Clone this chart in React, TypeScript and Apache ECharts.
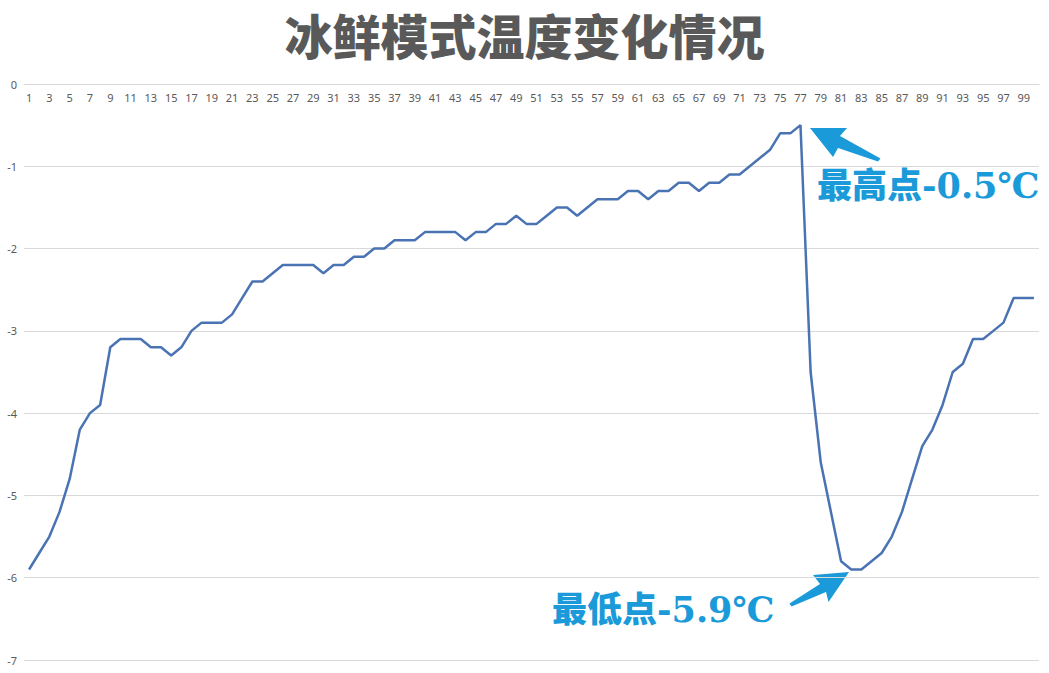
import { useEffect, useRef } from "react";
import * as echarts from "echarts";

const categories = [
  "1", "2", "3", "4", "5", "6", "7", "8", "9", "10",
  "11", "12", "13", "14", "15", "16", "17", "18", "19", "20",
  "21", "22", "23", "24", "25", "26", "27", "28", "29", "30",
  "31", "32", "33", "34", "35", "36", "37", "38", "39", "40",
  "41", "42", "43", "44", "45", "46", "47", "48", "49", "50",
  "51", "52", "53", "54", "55", "56", "57", "58", "59", "60",
  "61", "62", "63", "64", "65", "66", "67", "68", "69", "70",
  "71", "72", "73", "74", "75", "76", "77", "78", "79", "80",
  "81", "82", "83", "84", "85", "86", "87", "88", "89", "90",
  "91", "92", "93", "94", "95", "96", "97", "98", "99", "100",
];

const temperatures = [
  -5.9, -5.7, -5.5, -5.2, -4.8, -4.2, -4.0, -3.9, -3.2, -3.1,
  -3.1, -3.1, -3.2, -3.2, -3.3, -3.2, -3.0, -2.9, -2.9, -2.9,
  -2.8, -2.6, -2.4, -2.4, -2.3, -2.2, -2.2, -2.2, -2.2, -2.3,
  -2.2, -2.2, -2.1, -2.1, -2.0, -2.0, -1.9, -1.9, -1.9, -1.8,
  -1.8, -1.8, -1.8, -1.9, -1.8, -1.8, -1.7, -1.7, -1.6, -1.7,
  -1.7, -1.6, -1.5, -1.5, -1.6, -1.5, -1.4, -1.4, -1.4, -1.3,
  -1.3, -1.4, -1.3, -1.3, -1.2, -1.2, -1.3, -1.2, -1.2, -1.1,
  -1.1, -1.0, -0.9, -0.8, -0.6, -0.6, -0.5, -3.5, -4.6, -5.2,
  -5.8, -5.9, -5.9, -5.8, -5.7, -5.5, -5.2, -4.8, -4.4, -4.2,
  -3.9, -3.5, -3.4, -3.1, -3.1, -3.0, -2.9, -2.6, -2.6, -2.6,
];

const titleText = "冰鲜模式温度变化情况";
const maxLabel = "最高点-0.5℃";
const minLabel = "最低点-5.9℃";

const gray = "#595959";
const gridGray = "#d9d9d9";
const noteBlue = "#1b9ad9";
const noteFont = "900 35px 'DejaVu Serif', 'Noto Sans CJK SC'";

export default function App() {
  const chartRef = useRef<HTMLDivElement>(null);

  useEffect(() => {
    if (!chartRef.current) return;
    const chart = echarts.init(chartRef.current, undefined, { renderer: "svg" });

    chart.setOption({
      animation: false,
      title: {
        text: titleText,
        left: "center",
        top: 5,
        textStyle: {
          fontFamily: "Noto Sans CJK SC",
          fontSize: 48,
          fontWeight: 900,
          color: gray,
        },
      },
      grid: { left: 24, right: 10, top: 84, bottom: 13 },
      xAxis: {
        type: "category",
        position: "top",
        data: categories,
        boundaryGap: true,
        axisLine: { show: true, lineStyle: { color: gridGray, width: 1 } },
        axisTick: { show: false },
        axisLabel: {
          inside: true,
          interval: 1,
          margin: 8,
          color: gray,
          fontSize: 11,
          fontFamily: "Noto Sans",
        },
      },
      yAxis: {
        type: "value",
        min: -7,
        max: 0,
        interval: 1,
        axisLine: { show: false },
        axisTick: { show: false },
        axisLabel: { margin: 7, color: gray, fontSize: 11, fontFamily: "Noto Sans" },
        splitLine: { lineStyle: { color: gridGray, width: 1 } },
      },
      series: [
        {
          type: "line",
          data: temperatures,
          showSymbol: false,
          symbol: "none",
          lineStyle: { color: "#4a73b3", width: 2.5 },
        },
      ],
      graphic: [
        {
          type: "polygon",
          shape: {
            points: [
              [810, 128],
              [847, 128],
              [840, 136],
              [880.5, 158.5],
              [878, 161.5],
              [838, 148],
              [833, 157],
            ],
          },
          style: { fill: noteBlue },
        },
        {
          type: "polygon",
          shape: {
            points: [
              [849, 572],
              [813, 575],
              [820, 584],
              [789.5, 603.5],
              [791.5, 606.5],
              [826, 592],
              [828.5, 602],
            ],
          },
          style: { fill: noteBlue },
        },
        {
          type: "text",
          left: 817,
          top: 168,
          style: { text: maxLabel, fill: noteBlue, font: noteFont },
        },
        {
          type: "text",
          left: 552,
          top: 592,
          style: { text: minLabel, fill: noteBlue, font: noteFont },
        },
      ],
    });

    return () => {
      chart.dispose();
    };
  }, []);

  return (
    <div
      ref={chartRef}
      style={{ position: "fixed", left: 0, top: 0, width: 1049, height: 673, background: "#fff" }}
    />
  );
}
